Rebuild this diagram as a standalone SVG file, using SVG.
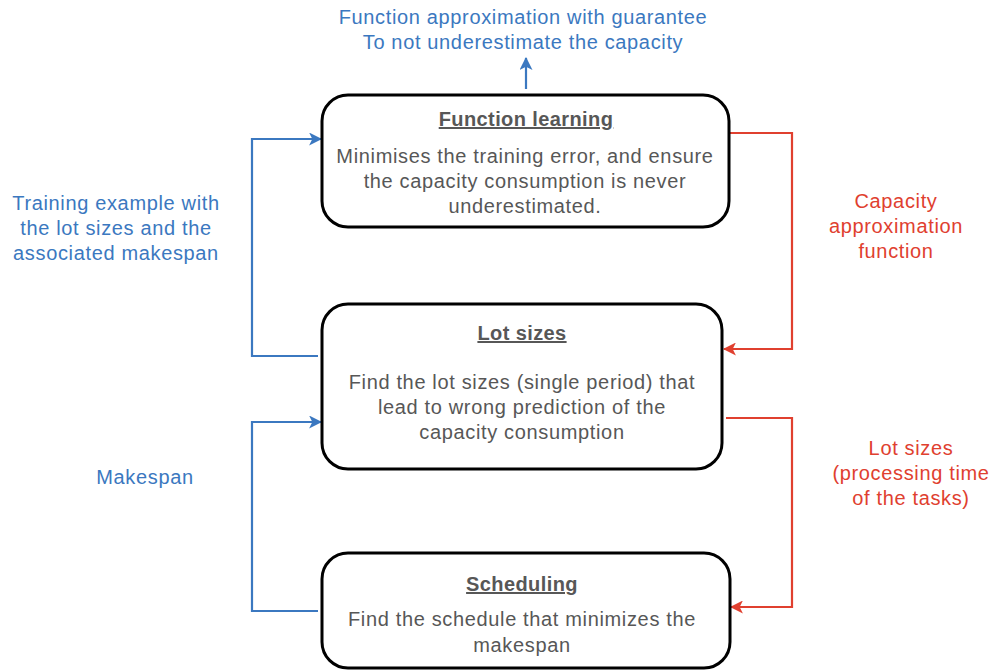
<svg xmlns="http://www.w3.org/2000/svg" width="995" height="670" viewBox="0 0 995 670">
<defs>
<marker id="ab" viewBox="0 0 12 12" refX="11" refY="6" markerWidth="13" markerHeight="13" markerUnits="userSpaceOnUse" orient="auto"><path d="M0,0 L12,6 L0,12 L3,6 Z" fill="#3b78c0"/></marker>
<marker id="ar" viewBox="0 0 12 12" refX="11" refY="6" markerWidth="13" markerHeight="13" markerUnits="userSpaceOnUse" orient="auto"><path d="M0,0 L12,6 L0,12 L3,6 Z" fill="#e0402f"/></marker>
</defs>
<style>
.box{fill:#fff;stroke:#000;stroke-width:3}
text{font-family:"Liberation Sans",Arial,sans-serif;font-size:20px;letter-spacing:0.65px;text-anchor:middle}
.t{fill:#575757}
.h{font-weight:bold;text-decoration:underline;letter-spacing:0.4px}
.b{stroke:#3b78c0;stroke-width:2.2;fill:none}
.r{stroke:#e0402f;stroke-width:2.2;fill:none}
.lb{fill:#3b78c0}
.lr{fill:#e0402f}
</style>
<rect width="995" height="670" fill="#fff"/>
<g id="connectors">
<path class="b" d="M526,89 V58" marker-end="url(#ab)"/>
<path class="b" d="M318,356 H252 V139 H321" marker-end="url(#ab)"/>
<path class="b" d="M318,611 H252 V422 H321" marker-end="url(#ab)"/>
<path class="r" d="M726,133 H792 V349 H724" marker-end="url(#ar)"/>
<path class="r" d="M726,418 H792 V607 H731" marker-end="url(#ar)"/>
</g>
<g id="node-function-learning">
<rect class="box" x="322" y="95" width="407" height="132" rx="26"/>
<text class="t h" x="526" y="126">Function learning</text>
<text class="t" x="525" y="163">Minimises the training error, and ensure</text>
<text class="t" x="525" y="188">the capacity consumption is never</text>
<text class="t" x="525" y="213">underestimated.</text>
</g>
<g id="node-lot-sizes">
<rect class="box" x="322" y="304" width="400" height="165" rx="26"/>
<text class="t h" x="522" y="340">Lot sizes</text>
<text class="t" x="522" y="389">Find the lot sizes (single period) that</text>
<text class="t" x="522" y="414">lead to wrong prediction of the</text>
<text class="t" x="522" y="439">capacity consumption</text>
</g>
<g id="node-scheduling">
<rect class="box" x="322" y="553" width="408" height="115" rx="26"/>
<text class="t h" x="522" y="591">Scheduling</text>
<text class="t" x="522" y="626">Find the schedule that minimizes the</text>
<text class="t" x="522" y="652">makespan</text>
</g>
<g id="labels">
<text class="lb" x="523" y="24">Function approximation with guarantee</text>
<text class="lb" x="523" y="49">To not underestimate the capacity</text>
<text class="lb" x="116" y="210">Training example with</text>
<text class="lb" x="116" y="235">the lot sizes and the</text>
<text class="lb" x="116" y="260">associated makespan</text>
<text class="lb" x="145" y="484">Makespan</text>
<text class="lr" x="896" y="208">Capacity</text>
<text class="lr" x="896" y="233">approximation</text>
<text class="lr" x="896" y="258">function</text>
<text class="lr" x="911" y="455">Lot sizes</text>
<text class="lr" x="911" y="480">(processing time</text>
<text class="lr" x="911" y="505">of the tasks)</text>
</g>
</svg>
